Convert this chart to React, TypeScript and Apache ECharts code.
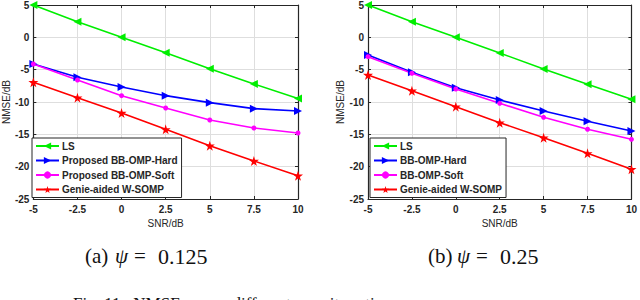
import React, { useEffect, useRef } from "react";
import * as echarts from "echarts";

const snr = [-5, -2.5, 0, 2.5, 5, 7.5, 10];
const xTicks = ["-5", "-2.5", "0", "2.5", "5", "7.5", "10"];

// (a) psi = 0.125
const lsA = [5, 2.42, 0.0, -2.4, -4.85, -7.2, -9.45];
const hardA = [-4.12, -6.18, -7.68, -9.02, -10.1, -11.03, -11.4];
const softA = [-4.12, -6.6, -9.02, -10.93, -12.78, -14.02, -14.8];
const genieA = [-6.95, -9.33, -11.7, -14.22, -16.76, -19.12, -21.4];

// (b) psi = 0.25
const lsB = [5, 2.42, 0.0, -2.42, -4.9, -7.26, -9.58];
const hardB = [-2.73, -5.41, -7.79, -9.69, -11.39, -12.99, -14.48];
const softB = [-2.99, -5.56, -7.99, -10.2, -12.37, -14.22, -15.77];
const genieB = [-5.82, -8.25, -10.72, -13.2, -15.52, -17.93, -20.4];

const namesA = ["LS", "Proposed BB-OMP-Hard", "Proposed BB-OMP-Soft", "Genie-aided W-SOMP"];
const namesB = ["LS", "BB-OMP-Hard", "BB-OMP-Soft", "Genie-aided W-SOMP"];

const LEFT_TRI = "path://M0,5L10,0L10,10Z";
const RIGHT_TRI = "path://M10,5L0,0L0,10Z";
const STAR =
  "path://M50,0L61,35L98,35L68,57L79,91L50,70L21,91L32,57L2,35L39,35Z";

const styles = [
  { color: "#00ee00", symbol: LEFT_TRI, size: 8 },
  { color: "#0000ff", symbol: RIGHT_TRI, size: 8 },
  { color: "#ff00ff", symbol: "circle", size: 5 },
  { color: "#ff0000", symbol: STAR, size: 10 },
];

const FONT = "'Liberation Sans', Arial, Helvetica, sans-serif";
const SERIF = "'Liberation Serif', 'Times New Roman', serif";
const AXC = "#262626";

function pairs(ys: number[]) {
  return snr.map((x, i) => [x, ys[i]]);
}

function txt(x: number, y: number, text: string, opts: any = {}) {
  return {
    type: "text",
    x,
    y,
    style: {
      text,
      fontFamily: SERIF,
      fontSize: 21,
      fill: "#111",
      align: "left",
      verticalAlign: "middle",
      ...opts,
    },
  };
}

export default function App() {
  const ref = useRef<HTMLDivElement>(null);
  useEffect(() => {
    if (!ref.current) return;
    const chart = echarts.init(ref.current, undefined, { renderer: "svg" });

    const grids = [
      { left: 31, top: 5, width: 267, height: 194 },
      { left: 368, top: 5, width: 266, height: 194 },
    ];

    const xAxes: any[] = [];
    const yAxes: any[] = [];
    [0, 1].forEach((g) => {
      xAxes.push({
        type: "value",
        gridIndex: g,
        min: -5,
        max: 10,
        interval: 2.5,
        position: "bottom",
        name: "SNR/dB",
        nameLocation: "middle",
        nameGap: 18,
        nameTextStyle: { color: AXC, fontSize: 10, fontFamily: FONT },
        axisLine: { show: true, onZero: false, lineStyle: { color: AXC, width: 1.2 } },
        axisTick: { show: true, inside: true, length: 3, lineStyle: { color: AXC } },
        axisLabel: {
          color: AXC,
          fontSize: 10,
          fontWeight: "bold",
          fontFamily: FONT,
          margin: 5,
          formatter: (v: number) => xTicks[snr.indexOf(v)] ?? String(v),
        },
        splitLine: { show: true, lineStyle: { color: "#dedede", width: 1 } },
      });
      xAxes.push({
        type: "value",
        gridIndex: g,
        min: -5,
        max: 10,
        interval: 2.5,
        position: "top",
        axisLine: { show: true, onZero: false, lineStyle: { color: AXC, width: 1.2 } },
        axisTick: { show: true, inside: true, length: 3, lineStyle: { color: AXC } },
        axisLabel: { show: false },
        splitLine: { show: false },
      });
      yAxes.push({
        type: "value",
        gridIndex: g,
        min: -25,
        max: 5,
        interval: 5,
        position: "left",
        name: "NMSE/dB",
        nameLocation: "middle",
        nameGap: 19,
        nameTextStyle: { color: AXC, fontSize: 10, fontFamily: FONT },
        axisLine: { show: true, onZero: false, lineStyle: { color: AXC, width: 1.2 } },
        axisTick: { show: true, inside: true, length: 3, lineStyle: { color: AXC } },
        axisLabel: {
          color: AXC,
          fontSize: 10,
          fontWeight: "bold",
          fontFamily: FONT,
          margin: 4,
        },
        splitLine: { show: true, lineStyle: { color: "#dedede", width: 1 } },
      });
      yAxes.push({
        type: "value",
        gridIndex: g,
        min: -25,
        max: 5,
        interval: 5,
        position: "right",
        axisLine: { show: true, onZero: false, lineStyle: { color: AXC, width: 1.2 } },
        axisTick: { show: true, inside: true, length: 3, lineStyle: { color: AXC } },
        axisLabel: { show: false },
        splitLine: { show: false },
      });
    });

    const makeSeries = (names: string[], data: number[][], g: number) =>
      names.map((n, i) => ({
        name: n,
        type: "line",
        xAxisIndex: g * 2,
        yAxisIndex: g * 2,
        data: pairs(data[i]),
        symbol: styles[i].symbol,
        symbolSize: styles[i].size,
        showAllSymbol: true,
        lineStyle: { color: styles[i].color, width: 1.6 },
        itemStyle: { color: styles[i].color },
        z: 3,
      }));

    const series = [
      ...makeSeries(namesA, [lsA, hardA, softA, genieA], 0),
      ...makeSeries(namesB, [lsB, hardB, softB, genieB], 1),
    ];

    const legendCommon = {
      orient: "vertical",
      itemWidth: 23,
      itemHeight: 9,
      itemGap: 4.5,
      padding: [3, 4, 3, 3],
      borderColor: AXC,
      borderWidth: 1,
      borderRadius: 0,
      backgroundColor: "#ffffff",
      selectedMode: false,
      textStyle: {
        color: AXC,
        fontSize: 10,
        fontWeight: "bold",
        fontFamily: FONT,
        padding: [0, 0, 0, -2],
      },
      z: 10,
    };

    chart.setOption({
      animation: false,
      backgroundColor: "#ffffff",
      grid: grids,
      xAxis: xAxes,
      yAxis: yAxes,
      legend: [
        { ...legendCommon, left: 32, top: 138, data: namesA },
        { ...legendCommon, left: 370, top: 138, data: namesB },
      ],
      series,
      graphic: [
        txt(85, 256, "(a)"),
        txt(115, 256, "ψ", { fontStyle: "italic" }),
        txt(134, 256, "="),
        txt(158, 256, "0.125", { fontSize: 22 }),
        txt(428, 256, "(b)"),
        txt(457, 256, "ψ", { fontStyle: "italic" }),
        txt(476, 256, "="),
        txt(500, 256, "0.25", { fontSize: 22 }),
        {
          type: "text",
          x: 73,
          y: 295,
          style: {
            text: "Fig. 11.  NMSE versus different sparsity ratios.",
            fontFamily: SERIF,
            fontSize: 17,
            fill: "#111",
            align: "left",
            verticalAlign: "top",
          },
        },
      ],
    });

    return () => chart.dispose();
  }, []);

  return (
    <div
      ref={ref}
      style={{ position: "fixed", left: 0, top: 0, width: 640, height: 300, background: "#fff" }}
    />
  );
}
